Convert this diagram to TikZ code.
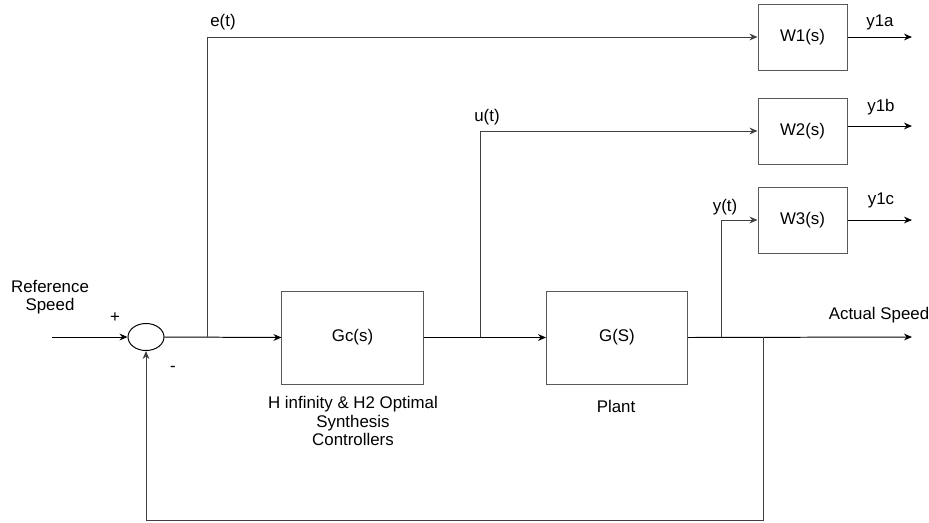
\documentclass[tikz,border=0pt]{standalone}
\usepackage{fontspec}
\setmainfont{Liberation Sans}
\usepackage{tikz}
\usetikzlibrary{positioning,arrows.meta,calc,shapes.geometric}

\begin{document}
\begin{tikzpicture}[
  x=0.025cm, y=-0.025cm,
  font=\fontsize{12}{13}\selectfont,
  block/.style={
    draw=black!65, line width=0.7pt,
    minimum width=3.525cm, minimum height=2.325cm,
    inner sep=0pt,
  },
  wblock/.style={
    draw=black!65, line width=0.7pt,
    minimum width=2.225cm, minimum height=1.65cm,
    inner sep=0pt,
  },
  summer/.style={
    draw=black, line width=0.7pt, ellipse,
    minimum width=0.9cm, minimum height=0.675cm, inner sep=0pt,
  },
  sig/.style={->, draw=black, line width=0.7pt, >={Stealth[length=2mm, width=1.7mm]}},
  tap/.style={->, draw=black!75, line width=0.7pt, >={Stealth[length=2mm, width=1.7mm]}},
  lbl/.style={inner sep=1pt, align=center},
]

% Frame of the picture (929 x 522 px)
\useasboundingbox (0,0) rectangle (929,522);

% Main loop: summing junction, controller and plant
\node[summer] (sum) at (146,337) {};
\node[block] (gc) at (352.5,337.5) {Gc(s)};
\node[block] (g)  at (617,337.5)  {G(S)};

% Weighting blocks on the right
\node[wblock] (w1) at (802.5,37)  {W1(s)};
\node[wblock] (w2) at (802.5,131) {W2(s)};
\node[wblock] (w3) at (802.5,220) {W3(s)};

% Branch points and free ends
\coordinate (refIn)    at (52,337);
\coordinate (eTap)     at (207,337);
\coordinate (uTap)     at (480,337);
\coordinate (yTap)     at (721,337);
\coordinate (fbTap)    at (763,337);
\coordinate (fbCorner) at (763,520);
\coordinate (actOut)   at (912,337);
\coordinate (y1aEnd)   at (912,37);
\coordinate (y1bEnd)   at (912,126);
\coordinate (y1cEnd)   at (912,220);

% Forward path
\draw[sig] (refIn) -- (sum.west);
\draw[sig] (sum.east) -- (gc.west);
\draw[sig] (gc.east) -- (g.west);
\draw[sig] (g.east) -- (actOut);

% Signals taken off to the weights
\draw[tap] (eTap) |- (w1.west);
\draw[tap] (uTap) |- (w2.west);
\draw[tap] (yTap) |- (w3.west);
\draw[sig] (w1.east) -- (y1aEnd);
\draw[sig] (w2.east |- y1bEnd) -- (y1bEnd);
\draw[sig] (w3.east) -- (y1cEnd);

% Feedback path
\draw[tap] (fbTap) -- (fbCorner) -| (sum.south);

% Labels
\node[lbl] (refLbl)  at (50,297)  {Reference\\Speed};
\node[lbl] (plusLbl) at (115,318) {+};
\node[lbl] (minLbl)  at (173,369) {-};
\node[lbl] (eLbl)    at (223,22)  {e(t)};
\node[lbl] (uLbl)    at (487,117) {u(t)};
\node[lbl] (yLbl)    at (725,207) {y(t)};
\node[lbl] (y1aLbl)  at (880,22)  {y1a};
\node[lbl] (y1bLbl)  at (881,107) {y1b};
\node[lbl] (y1cLbl)  at (881,200) {y1c};
\node[lbl] (actLbl)  at (879,315) {Actual Speed};
\node[lbl] (gcLbl)   at (353,421) {H infinity \& H2 Optimal\\Synthesis\\Controllers};
\node[lbl] (gLbl)    at (616,406) {Plant};

\end{tikzpicture}
\end{document}
